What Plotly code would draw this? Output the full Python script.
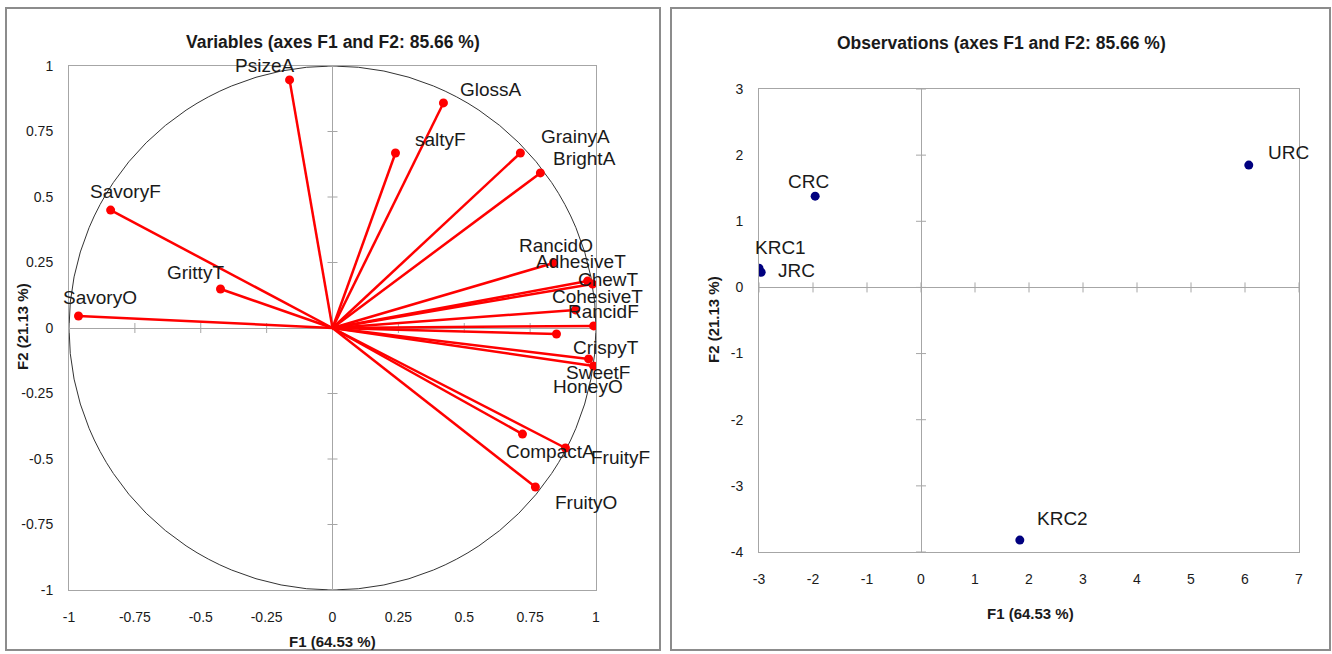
import plotly.graph_objects as go

# ---------------- data ----------------
var_names = ["PsizeA", "GlossA", "saltyF", "GrainyA", "BrightA", "SavoryF", "GrittyT", "SavoryO",
             "RancidO", "AdhesiveT", "ChewT", "CohesiveT", "RancidF", "HoneyO", "CrispyT", "SweetF",
             "CompactA", "FruityF", "FruityO"]
var_f1 = [-0.163, 0.421, 0.239, 0.713, 0.789, -0.842, -0.425, -0.964,
          0.839, 0.968, 0.987, 0.922, 0.991, 0.850, 0.972, 0.991,
          0.721, 0.884, 0.770]
var_f2 = [0.947, 0.859, 0.668, 0.668, 0.592, 0.450, 0.149, 0.046,
          0.248, 0.179, 0.168, 0.069, 0.008, -0.023, -0.118, -0.145,
          -0.405, -0.458, -0.607]

obs_names = ["CRC", "URC", "KRC1", "JRC", "KRC2"]
obs_f1 = [-1.96, 6.07, -3.00, -2.96, 1.83]
obs_f2 = [1.38, 1.85, 0.29, 0.23, -3.82]

left_ticks = [-1, -0.75, -0.5, -0.25, 0, 0.25, 0.5, 0.75, 1]
left_ticktext = ["-1", "-0.75", "-0.5", "-0.25", "0", "0.25", "0.5", "0.75", "1"]
right_xticks = [-3, -2, -1, 0, 1, 2, 3, 4, 5, 6, 7]
right_yticks = [-4, -3, -2, -1, 0, 1, 2, 3]

title_left = "Variables (axes F1 and F2: 85.66 %)"
title_right = "Observations (axes F1 and F2: 85.66 %)"
xtitle = "F1 (64.53 %)"
ytitle = "F2 (21.13 %)"

# label offsets in pixels (placement only)
var_label_shift = [(-25, 14), (48, 13), (45, 13), (55, 16), (44, 14), (15, 19), (-25, 16), (22, 18),
                   (2, 18), (-7, 20), (16, 4), (22, 13), (10, 14), (32, -52), (17, 11), (4, -7),
                   (28, -17), (55, -9), (51, -15)]
obs_label_shift = [(-7, 15), (40, 13), (22, 21), (35, 2), (43, 22)]

W, H = 1332, 654
FONT = "Liberation Sans Narrow, Liberation Sans, Arial, sans-serif"
TXT = "#1a1a1a"
GRID = "#a6a6a6"

fig = go.Figure()

# variable vectors
for n, x, y in zip(var_names, var_f1, var_f2):
    fig.add_trace(go.Scatter(x=[0, x], y=[0, y], mode="lines", line=dict(color="#ff0000", width=2.5),
                             xaxis="x", yaxis="y", hoverinfo="skip", showlegend=False))
fig.add_trace(go.Scatter(x=var_f1, y=var_f2, mode="markers", text=var_names,
                         marker=dict(color="#ff0000", size=9), xaxis="x", yaxis="y", showlegend=False))

fig.add_trace(go.Scatter(x=obs_f1, y=obs_f2, mode="markers", text=obs_names,
                         marker=dict(color="#00007f", size=9), xaxis="x2", yaxis="y2", showlegend=False))

# domains
lx = [69 / W, 596 / W]
ly = [1 - 590 / H, 1 - 66 / H]
rx = [759 / W, 1299 / W]
ry = [1 - 552 / H, 1 - 89 / H]

axcommon = dict(showgrid=False, zeroline=True, zerolinecolor=GRID, zerolinewidth=1,
                showline=True, mirror=True, linecolor=GRID, linewidth=1, ticks="",
                automargin=False,
                tickfont=dict(family=FONT, size=14, color=TXT), fixedrange=True)

fig.update_layout(
    width=W, height=H, margin=dict(l=0, r=0, t=0, b=0, pad=0, autoexpand=False),
    paper_bgcolor="white", plot_bgcolor="white", showlegend=False,
    xaxis=dict(domain=lx, range=[-1, 1], tickvals=left_ticks, ticktext=left_ticktext,
               anchor="y", ticklabelstandoff=14, **axcommon),
    yaxis=dict(domain=ly, range=[-1, 1], tickvals=left_ticks, ticktext=left_ticktext,
               anchor="x", ticklabelstandoff=12, **axcommon),
    xaxis2=dict(domain=rx, range=[-3, 7], tickvals=right_xticks,
                ticktext=[str(v) for v in right_xticks], anchor="y2", ticklabelstandoff=14, **axcommon),
    yaxis2=dict(domain=ry, range=[-4, 3], tickvals=right_yticks,
                ticktext=[str(v) for v in right_yticks], anchor="x2", ticklabelstandoff=12, **axcommon),
)

shapes = []
# panel borders
shapes.append(dict(type="rect", xref="paper", yref="paper", x0=6 / W, x1=660 / W, y0=1 - 650 / H, y1=1 - 8 / H,
                   line=dict(color="#8c8c8c", width=2), layer="below"))
shapes.append(dict(type="rect", xref="paper", yref="paper", x0=671 / W, x1=1330 / W, y0=1 - 650 / H, y1=1 - 8 / H,
                   line=dict(color="#8c8c8c", width=2), layer="below"))
# correlation circle
shapes.append(dict(type="circle", xref="x", yref="y", x0=-1, x1=1, y0=-1, y1=1,
                   line=dict(color="#333333", width=1), layer="below"))
# tick marks on the zero lines
for t in left_ticks:
    shapes.append(dict(type="line", xref="x", yref="y", xsizemode="scaled", ysizemode="pixel", yanchor=0,
                       x0=t, x1=t, y0=-5, y1=5, line=dict(color=GRID, width=1), layer="below"))
    shapes.append(dict(type="line", xref="x", yref="y", xsizemode="pixel", xanchor=0,
                       y0=t, y1=t, x0=-5, x1=5, line=dict(color=GRID, width=1), layer="below"))
for t in right_xticks:
    shapes.append(dict(type="line", xref="x2", yref="y2", ysizemode="pixel", yanchor=0,
                       x0=t, x1=t, y0=-5, y1=5, line=dict(color=GRID, width=1), layer="below"))
for t in right_yticks:
    shapes.append(dict(type="line", xref="x2", yref="y2", xsizemode="pixel", xanchor=0,
                       y0=t, y1=t, x0=-5, x1=5, line=dict(color=GRID, width=1), layer="below"))
fig.update_layout(shapes=shapes)

ann = []
for n, x, y, (dx, dy) in zip(var_names, var_f1, var_f2, var_label_shift):
    ann.append(dict(x=x, y=y, xref="x", yref="y", text=n, showarrow=False, xshift=dx, yshift=dy,
                    xanchor="center", yanchor="middle",
                    font=dict(family=FONT, size=19, color=TXT)))
for n, x, y, (dx, dy) in zip(obs_names, obs_f1, obs_f2, obs_label_shift):
    ann.append(dict(x=x, y=y, xref="x2", yref="y2", text=n, showarrow=False, xshift=dx, yshift=dy,
                    xanchor="center", yanchor="middle",
                    font=dict(family=FONT, size=19, color=TXT)))


def paper_text(px, py, text, size, angle=0):
    return dict(x=px / W, y=1 - py / H, xref="paper", yref="paper", text="<b>%s</b>" % text,
                showarrow=False, xanchor="center", yanchor="middle", textangle=angle,
                font=dict(family=FONT, size=size, color=TXT))


ann.append(paper_text(333, 42, title_left, 17.5))
ann.append(paper_text(1001, 43, title_right, 17.5))
ann.append(paper_text(332, 641, xtitle, 15))
ann.append(paper_text(1030, 613, xtitle, 15))
ann.append(paper_text(22, 327, ytitle, 15, -90))
ann.append(paper_text(713, 320, ytitle, 15, -90))
fig.update_layout(annotations=ann)

fig.write_html("out.html", config={"displayModeBar": False},
               post_script="document.body.style.margin='0';document.body.style.overflow='hidden';")
